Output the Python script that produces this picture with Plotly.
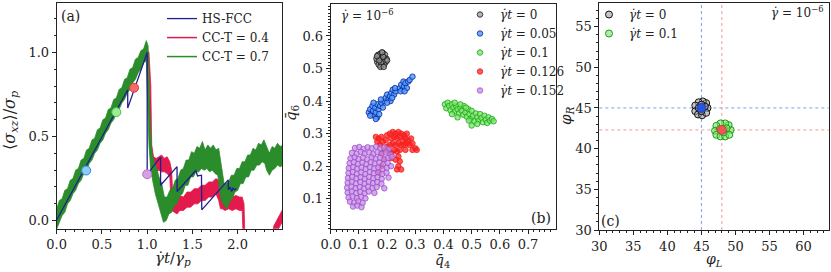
import plotly.graph_objects as go

# ---------------- data: panel (a) ----------------
hs_x = [0, 0.785, 0.785, 1.0, 1.0, 1.148, 1.148, 1.33, 1.33, 1.537, 1.556, 1.60, 1.603,
        1.896, 1.896, 1.918, 1.933, 1.948, 1.963, 1.985]
hs_y = [0.004, 0.778, 0.669, 1.0, 0.276, 0.377, 0.21, 0.321, 0.173, 0.298, 0.266, 0.27, 0.064,
        0.242, 0.183, 0.199, 0.173, 0.193, 0.183, 0.19]

green_up = [(0.00,0.07),(0.03,0.12),(0.06,0.13),(0.09,0.18),(0.12,0.19),(0.15,0.24),(0.18,0.25),
            (0.21,0.30),(0.24,0.31),(0.27,0.36),(0.30,0.37),(0.33,0.42),(0.36,0.43),(0.39,0.48),
            (0.42,0.49),(0.45,0.54),(0.48,0.55),(0.51,0.60),(0.54,0.61),(0.57,0.66),(0.60,0.67),
            (0.63,0.72),(0.66,0.73),(0.69,0.78),(0.72,0.79),(0.75,0.84),(0.78,0.85),(0.81,0.90),
            (0.84,0.91),(0.87,0.96),(0.90,0.97),(0.93,1.01),(0.96,1.02),(0.99,1.07),(1.01,1.04),
            (1.03,0.62),(1.05,0.42),(1.07,0.36),(1.10,0.32),(1.13,0.26),(1.16,0.22),(1.19,0.14),
            (1.22,0.14),(1.25,0.18),(1.28,0.19),(1.31,0.24),(1.34,0.25),(1.37,0.30),(1.40,0.31),
            (1.43,0.36),(1.46,0.36),(1.49,0.41),(1.52,0.40),(1.55,0.44),(1.58,0.43),(1.61,0.47),
            (1.64,0.42),(1.67,0.45),(1.70,0.43),(1.73,0.45),(1.76,0.42),(1.79,0.43),(1.81,0.36),
            (1.83,0.28),(1.85,0.22),(1.87,0.22),(1.90,0.23),(1.93,0.27),(1.96,0.27),(1.99,0.31),
            (2.02,0.31),(2.05,0.35),(2.08,0.35),(2.11,0.39),(2.14,0.39),(2.17,0.43),(2.20,0.42),
            (2.23,0.46),(2.26,0.45),(2.29,0.48),(2.31,0.45),(2.33,0.42),(2.35,0.40),(2.38,0.44),
            (2.41,0.43),(2.44,0.46),(2.47,0.44),(2.50,0.45)]
green_lo = [(0.00,-0.05),(0.03,-0.01),(0.06,0.03),(0.09,0.05),(0.12,0.10),(0.15,0.12),(0.18,0.16),
            (0.21,0.18),(0.24,0.22),(0.27,0.24),(0.30,0.28),(0.33,0.30),(0.36,0.34),(0.39,0.36),
            (0.42,0.40),(0.45,0.42),(0.48,0.46),(0.51,0.48),(0.54,0.52),(0.57,0.54),(0.60,0.58),
            (0.63,0.60),(0.66,0.64),(0.69,0.66),(0.72,0.70),(0.75,0.72),(0.78,0.76),(0.81,0.78),
            (0.84,0.82),(0.87,0.84),(0.90,0.88),(0.93,0.90),(0.96,0.94),(0.99,0.95),(1.00,0.90),
            (1.02,0.45),(1.04,0.30),(1.06,0.24),(1.09,0.16),(1.12,0.10),(1.15,0.05),(1.18,-0.01),
            (1.21,0.00),(1.24,0.04),(1.27,0.05),(1.30,0.09),(1.33,0.10),(1.36,0.15),(1.39,0.16),
            (1.42,0.21),(1.45,0.21),(1.48,0.26),(1.51,0.26),(1.54,0.29),(1.57,0.29),(1.60,0.31),
            (1.63,0.30),(1.66,0.31),(1.69,0.29),(1.72,0.30),(1.75,0.28),(1.78,0.27),(1.80,0.18),
            (1.82,0.12),(1.85,0.09),(1.88,0.07),(1.91,0.11),(1.94,0.13),(1.97,0.17),(2.00,0.18),
            (2.03,0.22),(2.06,0.22),(2.09,0.26),(2.12,0.26),(2.15,0.30),(2.18,0.30),(2.21,0.33),
            (2.24,0.33),(2.27,0.35),(2.30,0.34),(2.32,0.30),(2.35,0.27),(2.38,0.30),(2.41,0.31),
            (2.44,0.33),(2.47,0.32),(2.50,0.33)]

red_up = [(0.00,0.04),(0.50,0.54),(0.99,1.02),(1.02,1.0),(1.04,0.8),(1.05,0.45),(1.07,0.38),
          (1.10,0.37),(1.13,0.38),(1.16,0.39),(1.19,0.37),(1.22,0.38),(1.25,0.35),(1.27,0.30),
          (1.28,0.18),(1.30,0.14),(1.33,0.13),(1.36,0.15),(1.40,0.14),(1.44,0.17),(1.48,0.17),
          (1.52,0.19),(1.56,0.19),(1.60,0.21),(1.64,0.21),(1.68,0.23),(1.72,0.23),(1.76,0.25),
          (1.79,0.24),(1.81,0.18),(1.83,0.15),(1.86,0.14),(1.90,0.15),(1.94,0.14),(1.98,0.15),
          (2.02,0.14),(2.05,0.14),(2.07,0.10),(2.08,-0.10)]
red_lo = [(0.00,0.00),(0.50,0.49),(0.99,0.97),(1.02,0.9),(1.03,0.5),(1.04,0.33),(1.07,0.30),
          (1.10,0.29),(1.13,0.30),(1.16,0.29),(1.19,0.29),(1.22,0.28),(1.25,0.26),(1.26,0.15),
          (1.27,0.06),(1.30,0.05),(1.33,0.04),(1.36,0.06),(1.40,0.06),(1.44,0.08),(1.48,0.08),
          (1.52,0.10),(1.56,0.10),(1.60,0.12),(1.64,0.12),(1.68,0.14),(1.72,0.14),(1.76,0.16),
          (1.79,0.12),(1.81,0.07),(1.83,0.07),(1.86,0.06),(1.90,0.07),(1.94,0.06),(1.98,0.07),
          (2.02,0.06),(2.05,0.06),(2.06,-0.10)]
red2_up = [(2.37,-0.10),(2.40,-0.03),(2.43,0.00),(2.46,0.03),(2.50,0.07)]
red2_lo = [(2.40,-0.10),(2.50,0.00)]

dots_x = [0.326, 0.659, 0.855, 1.0]
dots_y = [0.298, 0.645, 0.79, 0.276]
dots_fill = ["#87cefa", "#98ee90", "#f26a6a", "#d7a0e6"]
dots_edge = ["#3c86d6", "#55bb55", "#dd3a3a", "#b070c8"]

# ---------------- data: panel (b) ----------------
black_pts = [(0.18,0.527),(0.17,0.535),(0.19,0.535),(0.165,0.52),(0.195,0.52),(0.175,0.545),
             (0.185,0.548),(0.18,0.508),(0.17,0.512),(0.19,0.512),(0.162,0.53),(0.198,0.53),
             (0.175,0.53),(0.185,0.522),(0.168,0.542),(0.192,0.543),(0.178,0.518),(0.186,0.536),
             (0.2,0.525),(0.172,0.525),(0.182,0.55),(0.176,0.505),(0.188,0.505),(0.164,0.538)]
blue_pts = [(0.135,0.365),(0.14,0.375),(0.145,0.36),(0.15,0.37),(0.155,0.355),(0.16,0.365),
            (0.148,0.385),(0.158,0.38),(0.165,0.35),(0.17,0.375),(0.165,0.39),(0.175,0.385),
            (0.18,0.395),(0.172,0.36),(0.185,0.38),(0.16,0.345),(0.19,0.4),(0.178,0.405),
            (0.14,0.355),(0.152,0.395),(0.195,0.41),(0.2,0.42),(0.205,0.405),(0.21,0.415),
            (0.215,0.425),(0.22,0.435),(0.212,0.4),(0.225,0.42),(0.23,0.43),(0.2,0.395),
            (0.218,0.41),(0.228,0.44),(0.245,0.44),(0.25,0.45),(0.255,0.435),(0.26,0.445),
            (0.258,0.46),(0.265,0.455),(0.27,0.44),(0.275,0.46),(0.28,0.465),(0.29,0.475),
            (0.248,0.43),(0.262,0.43)]
green_pts = [(0.405,0.39),(0.41,0.378),(0.415,0.395),(0.42,0.385),(0.425,0.372),(0.43,0.39),
             (0.435,0.38),(0.44,0.368),(0.445,0.385),(0.45,0.375),(0.455,0.362),(0.46,0.38),
             (0.465,0.37),(0.47,0.358),(0.472,0.385),(0.478,0.365),(0.483,0.352),(0.488,0.375),
             (0.492,0.36),(0.497,0.345),(0.5,0.37),(0.505,0.355),(0.51,0.338),(0.515,0.362),
             (0.52,0.35),(0.525,0.34),(0.53,0.36),(0.535,0.348),(0.54,0.335),(0.545,0.355),
             (0.55,0.343),(0.555,0.333),(0.56,0.35),(0.565,0.34),(0.572,0.345),(0.578,0.338),
             (0.44,0.395),(0.46,0.39),(0.48,0.38),(0.5,0.325),(0.52,0.33),(0.43,0.36),
             (0.45,0.35),(0.49,0.34)]
red_pts = [(0.16,0.29),(0.17,0.285),(0.165,0.275),(0.18,0.29),(0.185,0.275),(0.175,0.265),
           (0.195,0.28),(0.2,0.295),(0.21,0.3),(0.22,0.305),(0.23,0.3),(0.24,0.305),(0.25,0.3),
           (0.26,0.295),(0.27,0.3),(0.215,0.285),(0.225,0.29),(0.235,0.285),(0.245,0.29),
           (0.255,0.28),(0.265,0.285),(0.275,0.28),(0.285,0.285),(0.29,0.27),(0.28,0.265),
           (0.27,0.27),(0.26,0.265),(0.25,0.265),(0.24,0.27),(0.23,0.265),(0.22,0.27),
           (0.21,0.265),(0.2,0.26),(0.3,0.255),(0.305,0.25),(0.29,0.25),(0.265,0.25),
           (0.245,0.25),(0.235,0.245),(0.225,0.25),(0.215,0.24),(0.205,0.245),(0.24,0.23),
           (0.245,0.215),(0.24,0.2),(0.235,0.19),(0.25,0.19),(0.23,0.22),(0.215,0.225),
           (0.19,0.25),(0.18,0.24),(0.17,0.18),(0.18,0.2),(0.19,0.22)]
purple_pts = [
    (0.086,0.256),(0.101,0.259),(0.116,0.253),(0.131,0.258),(0.146,0.255),(0.161,0.26),(0.176,0.254),(0.19,0.257),(0.205,0.252),
    (0.075,0.241),(0.092,0.238),(0.107,0.244),(0.121,0.239),(0.136,0.242),(0.151,0.237),(0.166,0.243),(0.181,0.238),(0.196,0.242),(0.211,0.236),
    (0.07,0.224),(0.085,0.227),(0.099,0.222),(0.114,0.226),(0.13,0.221),(0.145,0.227),(0.16,0.223),(0.175,0.226),(0.19,0.221),(0.204,0.225),(0.218,0.229),
    (0.067,0.209),(0.082,0.212),(0.097,0.207),(0.112,0.211),(0.127,0.206),(0.142,0.212),(0.157,0.208),(0.172,0.211),(0.187,0.206),(0.202,0.21),
    (0.064,0.194),(0.079,0.197),(0.094,0.192),(0.109,0.196),(0.124,0.191),(0.139,0.197),(0.154,0.193),(0.169,0.196),(0.184,0.191),(0.199,0.195),(0.214,0.2),
    (0.063,0.179),(0.078,0.182),(0.093,0.177),(0.108,0.181),(0.123,0.176),(0.138,0.182),(0.153,0.178),(0.168,0.181),(0.183,0.176),(0.198,0.18),
    (0.061,0.164),(0.076,0.167),(0.091,0.162),(0.106,0.166),(0.121,0.161),(0.136,0.167),(0.151,0.163),(0.166,0.166),(0.181,0.161),(0.205,0.165),
    (0.06,0.149),(0.075,0.152),(0.09,0.147),(0.105,0.151),(0.12,0.146),(0.135,0.152),(0.15,0.148),(0.165,0.151),(0.18,0.146),
    (0.058,0.134),(0.073,0.137),(0.088,0.132),(0.103,0.136),(0.118,0.131),(0.133,0.137),(0.148,0.133),(0.163,0.136),(0.19,0.132),
    (0.06,0.119),(0.075,0.122),(0.09,0.117),(0.105,0.121),(0.12,0.116),(0.135,0.122),(0.155,0.118),
    (0.063,0.104),(0.078,0.107),(0.093,0.102),(0.108,0.106),(0.123,0.101),
    (0.068,0.091),(0.083,0.088),(0.098,0.092),(0.113,0.087),
    (0.079,0.076),(0.094,0.079),(0.109,0.074)]
b_names = ["<i>γ̇t</i> = 0", "<i>γ̇t</i> = 0.05", "<i>γ̇t</i> = 0.1",
           "<i>γ̇t</i> = 0.126", "<i>γ̇t</i> = 0.152"]

# ---------------- data: panel (c) ----------------
c_gray_pts = [(45.9,45.0),(45.7,45.6),(45.2,45.8),(44.6,45.7),(44.1,45.3),(44.1,44.6),(44.5,44.2),
              (45.1,44.1),(45.7,44.4),(45.5,45.2),(44.6,45.0),(45.0,45.4),(45.0,44.6)]
c_green_pts = [(49.3,42.3),(49.0,42.9),(48.5,43.1),(47.8,43.1),(47.2,42.8),(47.0,42.2),(47.2,41.7),
               (47.8,41.5),(48.5,41.5),(49.1,41.7),(48.7,42.5),(47.7,42.4),(48.2,42.0)]
c_center_blue = (45.0, 45.0)
c_center_red = (48.0, 42.3)
c_names = ["<i>γ̇t</i> = 0", "<i>γ̇t</i> = 0.1"]

# ---------------- figure ----------------
FONT = "DejaVu Serif"
INK = "#222222"
fig = go.Figure()


def poly(up, lo):
    xs = [p[0] for p in up] + [p[0] for p in reversed(lo)]
    ys = [p[1] for p in up] + [p[1] for p in reversed(lo)]
    return xs, ys


rx1, ry1 = poly(red_up, red_lo)
rx2, ry2 = poly(red2_up, red2_lo)
fig.add_trace(go.Scatter(x=rx1 + [None] + rx2, y=ry1 + [None] + ry2, mode="lines", fill="toself",
                         fillcolor="#e41a4c", line=dict(color="#e41a4c", width=0.8),
                         showlegend=False, hoverinfo="skip", xaxis="x", yaxis="y"))
gx, gy = poly(green_up, green_lo)
fig.add_trace(go.Scatter(x=gx, y=gy, mode="lines", fill="toself", fillcolor="#2b8c2b",
                         line=dict(color="#2b8c2b", width=0.8), showlegend=False,
                         hoverinfo="skip", xaxis="x", yaxis="y"))
fig.add_trace(go.Scatter(x=hs_x, y=hs_y, mode="lines", name="HS-FCC",
                         line=dict(color="#1f1f8f", width=1.3), legend="legend",
                         xaxis="x", yaxis="y"))
fig.add_trace(go.Scatter(x=[None], y=[None], mode="lines", name="CC-T = 0.4",
                         line=dict(color="#e41a4c", width=1.5), legend="legend",
                         xaxis="x", yaxis="y"))
fig.add_trace(go.Scatter(x=[None], y=[None], mode="lines", name="CC-T = 0.7",
                         line=dict(color="#2b8c2b", width=1.5), legend="legend",
                         xaxis="x", yaxis="y"))
fig.add_trace(go.Scatter(x=dots_x, y=dots_y, mode="markers", showlegend=False,
                         marker=dict(size=9, color=dots_fill, line=dict(color=dots_edge, width=1)),
                         xaxis="x", yaxis="y"))

b_series = [
    (black_pts, "rgba(150,150,150,0.7)", "#111111"),
    (blue_pts, "rgba(80,160,250,0.85)", "#0b1f9e"),
    (green_pts, "rgba(120,235,100,0.8)", "#22a022"),
    (red_pts, "rgba(255,30,30,0.75)", "#ee2020"),
    (purple_pts, "rgba(200,140,230,0.75)", "#9a50cc"),
]
for (pts, fill, edge), name in zip(b_series, b_names):
    fig.add_trace(go.Scatter(x=[p[0] for p in pts], y=[p[1] for p in pts], mode="markers",
                             name=name, legend="legend2",
                             marker=dict(size=5.5, color=fill, line=dict(color=edge, width=0.8)),
                             xaxis="x2", yaxis="y2"))

c_series = [
    (c_gray_pts, "rgba(160,160,160,0.6)", "#111111"),
    (c_green_pts, "rgba(120,230,100,0.6)", "#1f9a1f"),
]
for (pts, fill, edge), name in zip(c_series, c_names):
    fig.add_trace(go.Scatter(x=[p[0] for p in pts], y=[p[1] for p in pts], mode="markers",
                             name=name, legend="legend3",
                             marker=dict(size=7, color=fill, line=dict(color=edge, width=1)),
                             xaxis="x3", yaxis="y3"))
fig.add_trace(go.Scatter(x=[c_center_blue[0], c_center_red[0]],
                         y=[c_center_blue[1], c_center_red[1]], mode="markers", showlegend=False,
                         marker=dict(size=9, color=["#2a55e0", "#f05555"],
                                     line=dict(color=["#1a3ab0", "#d03333"], width=0.8)),
                         xaxis="x3", yaxis="y3"))

shapes = []
for (cx, cy), col in [(c_center_blue, "#7f9ff0"), (c_center_red, "#f09a9a")]:
    shapes.append(dict(type="line", xref="x3", yref="y3 domain", x0=cx, x1=cx, y0=0, y1=1,
                       line=dict(color=col, width=1, dash="dot"), layer="below"))
    shapes.append(dict(type="line", xref="x3 domain", yref="y3", x0=0, x1=1, y0=cy, y1=cy,
                       line=dict(color=col, width=1, dash="dot"), layer="below"))


def ax(domain, rng, anchor, dtick, mdtick, fmt, tick0=0):
    return dict(domain=domain, range=rng, anchor=anchor, showline=True, linecolor=INK,
                linewidth=1, mirror=True, ticks="outside", ticklen=4, tickwidth=1, tickcolor=INK,
                tickmode="linear", tick0=tick0, dtick=dtick, tickformat=fmt,
                tickfont=dict(family=FONT, size=13, color=INK), showgrid=False, zeroline=False,
                minor=dict(ticks="outside", ticklen=2, tickcolor=INK, dtick=mdtick, tick0=tick0,
                           showgrid=False))


W, H = 831, 272


def px(x, y):
    return x / W, 1 - y / H


annots = []


def note(x, y, text, size=14, xanchor="center", angle=0):
    ax_, ay_ = px(x, y)
    annots.append(dict(x=ax_, y=ay_, xref="paper", yref="paper", text=text, showarrow=False,
                       xanchor=xanchor, yanchor="middle", textangle=angle,
                       font=dict(family=FONT, size=size, color=INK)))


note(70, 16, "(a)", 14)
note(541, 218, "(b)", 14)
note(610, 221, "(c)", 14)
note(367, 15, "<i>γ̇</i> = 10<sup>−6</sup>", 12)
note(825, 12, "<i>γ̇</i> = 10<sup>−6</sup>", 12, xanchor="right")
note(173, 258, "<i>γ̇t</i>/<i>γ<sub>p</sub></i>", 15)
note(443, 261, "<i>q̄</i><sub>4</sub>", 14)
note(714, 260, "<i>φ<sub>L</sub></i>", 14)
note(10, 121, "⟨<i>σ<sub>xz</sub></i>⟩/<i>σ<sub>p</sub></i>", 16, angle=-90)
note(291, 113, "<i>q̄</i><sub>6</sub>", 15, angle=-90)
note(566, 116, "<i>φ<sub>R</sub></i>", 15, angle=-90)

leg_common = dict(bgcolor="rgba(0,0,0,0)", borderwidth=0, xanchor="left", yanchor="top",
                  font=dict(family=FONT, size=12, color=INK), traceorder="normal",
                  tracegroupgap=0)

fig.update_layout(
    width=W, height=H, margin=dict(l=0, r=0, t=0, b=0, autoexpand=False),
    paper_bgcolor="white", plot_bgcolor="white",
    xaxis=ax([0.0682, 0.3394], [0, 2.49], "y", 0.5, 0.1, ".1f"),
    yaxis=ax([0.1592, 0.989], [-0.048, 1.294], "x", 0.5, 0.1, ".1f"),
    xaxis2=ax([0.398, 0.669], [0, 0.799], "y2", 0.1, 0.02, ".1f"),
    yaxis2=ax([0.1592, 0.985], [0.008, 0.698], "x2", 0.1, 0.01, ".1f"),
    xaxis3=ax([0.7212, 0.9972], [30, 63.7], "y3", 5, 1, "d"),
    yaxis3=ax([0.1544, 0.989], [30, 57.9], "x3", 5, 1, "d"),
    legend=dict(x=162 / W, y=0.985, **leg_common),
    legend2=dict(x=460 / W, y=1.0, **leg_common),
    legend3=dict(x=589 / W, y=1.0, **leg_common),
    shapes=shapes, annotations=annots, showlegend=True,
)

fig.write_html("out.html", config={"displayModeBar": False},
               post_script="document.body.style.margin='0';document.body.style.overflow='hidden';")
